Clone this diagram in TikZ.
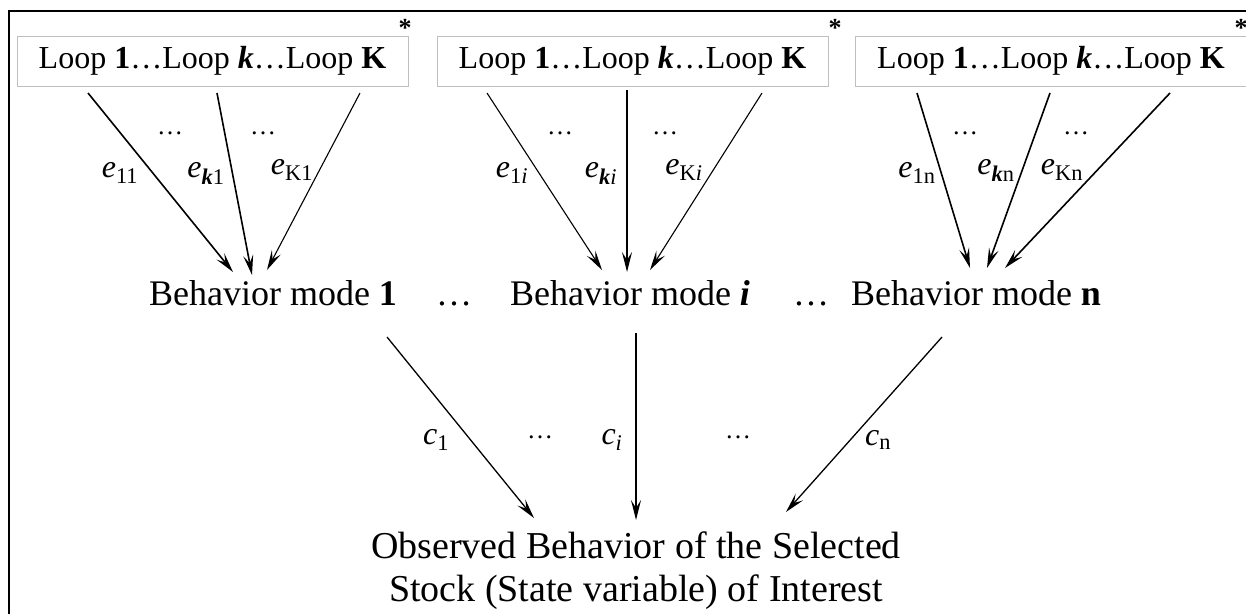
\documentclass[tikz,border=0pt]{standalone}
\usepackage{fontspec}
\setmainfont{Liberation Serif}
\usetikzlibrary{arrows.meta}

\tikzset{
  loopbox/.style={draw=gray!50, line width=1pt, minimum width=391pt, minimum height=50pt,
    inner sep=0pt, font=\fontsize{32}{36}\selectfont},
  conn/.style={-{Stealth[length=20pt,width=10pt,inset=8pt]}, line width=1.6pt},
  thinconn/.style={conn, line width=1.1pt},
  elabel/.style={font=\fontsize{32}{36}\selectfont, inner sep=0pt},
  dotsl/.style={font=\fontsize{26}{30}\selectfont, inner sep=0pt},
  modetext/.style={font=\fontsize{36}{42}\selectfont, anchor=base, inner sep=0pt},
  star/.style={font=\bfseries\fontsize{26}{28}\selectfont, inner sep=0pt}
}
\newcommand{\loops}{Loop \textbf{1}\ldots Loop \textbf{\textit{k}}\ldots Loop \textbf{K}}
\newcommand{\el}[2]{\textit{#1}\textsubscript{#2}}

\begin{document}
\begin{tikzpicture}[x=1pt,y=-1pt]
    \useasboundingbox (0,0) rectangle (1246,614);
    \draw[line width=1.6pt] (1246,11) -- (9,11) -- (9,614);

    \node[loopbox] (l_1) at (212.5,61) {\loops};
    \node[loopbox] (l_2) at (632.5,61) {\loops};
    \node[loopbox] (l_3) at (1051,61) {\loops};
    \node[star] (s_1) at (405,28) {*};
    \node[star] (s_2) at (835,28) {*};
    \node[star] (s_3) at (1241,28) {*};

    % loops -> behavior modes
    \coordinate (a_1) at (88,93);    \coordinate (b_1) at (233,272);
    \coordinate (a_2) at (217,93);   \coordinate (b_2) at (252,275);
    \coordinate (a_3) at (360,93);   \coordinate (b_3) at (267,270);
    \coordinate (a_4) at (487,93);   \coordinate (b_4) at (602,270);
    \coordinate (a_5) at (627,90);   \coordinate (b_5) at (627,272);
    \coordinate (a_6) at (762,93);   \coordinate (b_6) at (650,270);
    \coordinate (a_7) at (917,93);   \coordinate (b_7) at (970,268);
    \coordinate (a_8) at (1050,93);  \coordinate (b_8) at (987,268);
    \coordinate (a_9) at (1170,93);  \coordinate (b_9) at (1005,268);
    \foreach \s/\t in {a_1/b_1, a_2/b_2, a_5/b_5, a_7/b_7, a_8/b_8, a_9/b_9}
      \draw[conn] (\s) -- (\t);
    \foreach \s/\t in {a_3/b_3, a_4/b_4, a_6/b_6}
      \draw[thinconn] (\s) -- (\t);

    \node[elabel] (e_1) at (120,173) {\el{e}{11}};
    \node[elabel] (e_2) at (206,173) {\el{e}{\textbf{\textit{k}}1}};
    \node[elabel] (e_3) at (292,170) {\el{e}{K1}};
    \node[elabel] (e_4) at (512,173) {\el{e}{1\textit{i}}};
    \node[elabel] (e_5) at (601,173) {\el{e}{\textbf{\textit{k}}\textit{i}}};
    \node[elabel] (e_6) at (684,170) {\el{e}{K\textit{i}}};
    \node[elabel] (e_7) at (917,173) {\el{e}{1n}};
    \node[elabel] (e_8) at (996,170) {\el{e}{\textbf{\textit{k}}n}};
    \node[elabel] (e_9) at (1062,170) {\el{e}{Kn}};
    \node[dotsl] (d_1) at (170,133) {\ldots};
    \node[dotsl] (d_2) at (263,133) {\ldots};
    \node[dotsl] (d_3) at (560,133) {\ldots};
    \node[dotsl] (d_4) at (665,133) {\ldots};
    \node[dotsl] (d_5) at (965,133) {\ldots};
    \node[dotsl] (d_6) at (1076,133) {\ldots};

    \node[modetext] (m_1) at (273,305) {Behavior mode \textbf{1}};
    \node[modetext] (md_1) at (454,305) {\ldots};
    \node[modetext] (m_2) at (630,305) {Behavior mode \textbf{\textit{i}}};
    \node[modetext] (md_2) at (811,305) {\ldots};
    \node[modetext] (m_3) at (976,305) {Behavior mode \textbf{n}};

    % behavior modes -> observed behavior
    \coordinate (p_1) at (387,337);  \coordinate (q_1) at (534,518);
    \coordinate (p_2) at (636,333);  \coordinate (q_2) at (636,520);
    \coordinate (p_3) at (942,337);  \coordinate (q_3) at (786,512);
    \foreach \s/\t in {p_1/q_1, p_2/q_2, p_3/q_3}
      \draw[conn, line width=1.3pt] (\s) -- (\t);
    \node[elabel] (c_1) at (436,440) {\el{c}{1}};
    \node[dotsl] (cd_1) at (540,437) {\ldots};
    \node[elabel] (c_2) at (612,440) {\el{c}{\textit{i}}};
    \node[dotsl] (cd_2) at (738,437) {\ldots};
    \node[elabel] (c_3) at (878,440) {\el{c}{n}};

    \node[font=\fontsize{38}{43}\selectfont, align=center] (obs) at (636,571)
      {Observed Behavior of the Selected\\Stock (State variable) of Interest};
\end{tikzpicture}
\end{document}
